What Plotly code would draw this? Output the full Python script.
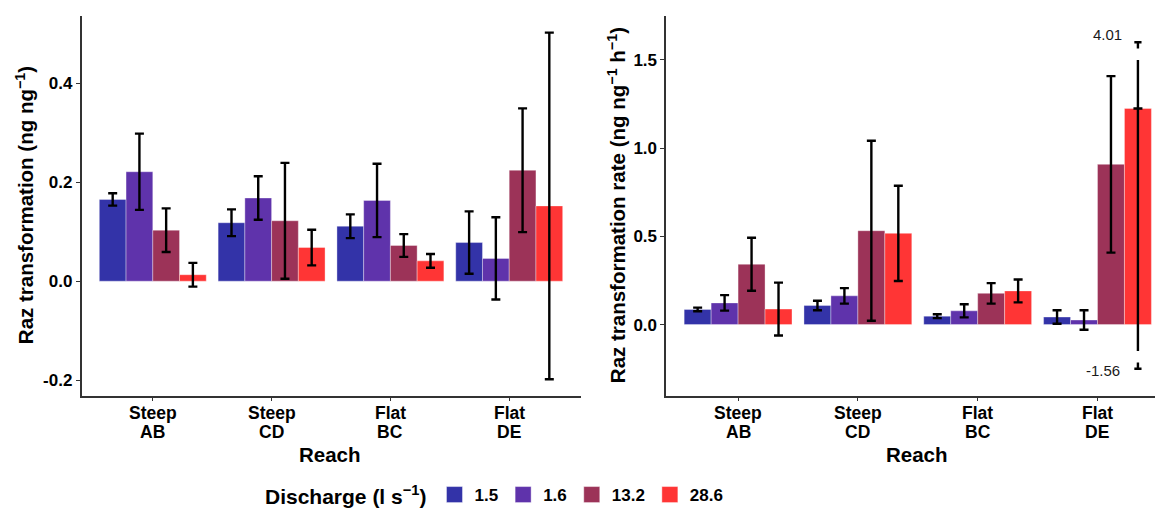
import plotly.graph_objects as go

# ---------------- data ----------------
reaches = ["Steep<br>AB", "Steep<br>CD", "Flat<br>BC", "Flat<br>DE"]
discharges = ["1.5", "1.6", "13.2", "28.6"]
colors = ["#3333A8", "#5F33AB", "#9C3358", "#FF3535"]

# left panel: Raz transformation (ng ng-1)
trans_15 = [0.165, 0.118, 0.111, 0.078]
trans_16 = [0.221, 0.168, 0.163, 0.046]
trans_132 = [0.103, 0.122, 0.072, 0.224]
trans_286 = [0.013, 0.068, 0.041, 0.152]
trans_err_15 = [0.0125, 0.027, 0.024, 0.063]
trans_err_16 = [0.077, 0.044, 0.074, 0.083]
trans_err_132 = [0.044, 0.117, 0.023, 0.125]
trans_err_286 = [0.024, 0.036, 0.014, 0.350]

# right panel: Raz transformation rate (ng ng-1 h-1)
rate_15 = [0.086, 0.108, 0.048, 0.043]
rate_16 = [0.123, 0.163, 0.078, 0.026]
rate_132 = [0.342, 0.532, 0.177, 0.908]
rate_286 = [0.088, 0.517, 0.191, 1.225]
rate_err_15 = [0.010, 0.027, 0.011, 0.038]
rate_err_16 = [0.044, 0.044, 0.037, 0.055]
rate_err_132 = [0.150, 0.510, 0.058, 0.500]
rate_err_286 = [0.150, 0.270, 0.065, None]   # DE bar: off-scale, drawn separately

# off-scale error bar of Flat DE / 28.6 (true limits 4.01 and -1.56)
off_scale_labels = ["4.01", "-1.56"]
off_scale_line = [1.50, -0.15]     # visible segment drawn in panel
off_scale_caps = [1.60, -0.25]     # cap marks
cap_stem = 0.035

left_ticks = [-0.2, 0.0, 0.2, 0.4]
left_ticktext = ["-0.2", "0.0", "0.2", "0.4"]
right_ticks = [0.0, 0.5, 1.0, 1.5]
right_ticktext = ["0.0", "0.5", "1.0", "1.5"]

# ---------------- figure ----------------
FONT = "Liberation Sans, Arial, sans-serif"
W, H = 1155, 515
xpos = list(range(len(reaches)))

left_vals = [trans_15, trans_16, trans_132, trans_286]
left_errs = [trans_err_15, trans_err_16, trans_err_132, trans_err_286]
right_vals = [rate_15, rate_16, rate_132, rate_286]
right_errs = [rate_err_15, rate_err_16, rate_err_132, rate_err_286]

fig = go.Figure()

def add_bars(vals, errs, xa, ya):
    for i, (v, e) in enumerate(zip(vals, errs)):
        fig.add_trace(go.Bar(
            x=xpos, y=v, xaxis=xa, yaxis=ya,
            name=discharges[i], offsetgroup=str(i), showlegend=False,
            marker=dict(color=colors[i], line=dict(color="rgba(255,255,255,0.35)", width=1)),
            error_y=dict(type="data", array=e, symmetric=True, color="black",
                         thickness=2.4, width=4.5),
        ))

add_bars(left_vals, left_errs, "x", "y")
add_bars(right_vals, right_errs, "x2", "y2")

# position of the 28.6 bar inside the DE group (bargap 0.1, 4 bars)
n = len(discharges)
bw = 0.9 / n
red_off = (n - 1 - (n - 1) / 2) * bw
x_red = xpos[3] + red_off

# long off-scale line (no caps)
fig.add_trace(go.Scatter(x=[x_red, x_red], y=off_scale_line, xaxis="x2", yaxis="y2",
                         mode="lines", line=dict(color="black", width=2.4),
                         showlegend=False, hoverinfo="skip"))
# cap marks (T at top, inverted T at bottom)
cw = 0.03
for cap, sgn in zip(off_scale_caps, [-1, 1]):
    fig.add_trace(go.Scatter(x=[x_red - cw, x_red + cw, None, x_red, x_red],
                             y=[cap, cap, None, cap, cap + sgn * cap_stem],
                             xaxis="x2", yaxis="y2", mode="lines",
                             line=dict(color="black", width=2.4),
                             showlegend=False, hoverinfo="skip"))

# legend entries
for i, d in enumerate(discharges):
    fig.add_trace(go.Scatter(x=[None], y=[None], mode="markers", name=d,
                             marker=dict(symbol="square", size=16, color=colors[i],
                                         line=dict(color="rgba(255,255,255,0.4)", width=1)),
                             showlegend=True))

def px(v):
    return v / W

def py(v):
    return 1 - v / H

axis_common = dict(showline=True, linecolor="#333333", linewidth=1.5,
                   ticks="outside", ticklen=4, tickcolor="#333333", tickwidth=1.2,
                   showgrid=False, zeroline=False,
                   tickfont=dict(family=FONT, size=17, color="black", weight="bold"))

y_dom = [py(401), py(16)]

fig.update_layout(
    width=W, height=H,
    margin=dict(l=0, r=0, t=0, b=0),
    paper_bgcolor="white", plot_bgcolor="white",
    font=dict(family=FONT, color="black"),
    barmode="group", bargap=0.1, bargroupgap=0,
    xaxis=dict(domain=[px(81.5), px(580.5)], range=[-0.6, 3.6],
               tickvals=xpos, showticklabels=False, **axis_common),
    yaxis=dict(domain=y_dom, range=[-0.231, 0.536], anchor="x",
               tickvals=left_ticks, ticktext=left_ticktext, **axis_common),
    xaxis2=dict(domain=[px(666.2), 1.0], range=[-0.6, 3.48], anchor="y2",
                tickvals=xpos, showticklabels=False, **axis_common),
    yaxis2=dict(domain=y_dom, range=[-0.402, 1.75], anchor="x2",
                tickvals=right_ticks, ticktext=right_ticktext, **axis_common),
    legend=dict(orientation="h", x=px(263), xanchor="left", y=py(503), yanchor="middle",
                title=dict(text="Discharge (l s<sup>\u22121</sup>)", side="left",
                           font=dict(family=FONT, size=21, color="black", weight="bold")),
                font=dict(family=FONT, size=17, color="black", weight="bold"),
                itemsizing="trace", bgcolor="rgba(0,0,0,0)"),
    showlegend=True,
)

title_font = dict(family=FONT, size=20.5, color="black", weight="bold")
tick_font = dict(family=FONT, size=17.5, color="black", weight="bold")
annos = [
    dict(text="Raz transformation (ng ng<sup>\u22121</sup>)", x=px(25), y=py(208),
         xref="paper", yref="paper", textangle=-90, showarrow=False, font=title_font,
         xanchor="center", yanchor="middle"),
    dict(text="Raz transformation rate (ng ng<sup>\u22121</sup> h<sup>\u22121</sup>)", x=px(617),
         y=py(208), xref="paper", yref="paper", textangle=-90, showarrow=False,
         font=title_font, xanchor="center", yanchor="middle"),
    dict(text="Reach", x=px(330), y=py(461), xref="paper", yref="paper", showarrow=False,
         font=title_font, xanchor="center", yanchor="middle"),
    dict(text="Reach", x=px(917), y=py(461), xref="paper", yref="paper", showarrow=False,
         font=title_font, xanchor="center", yanchor="middle"),
    dict(text=off_scale_labels[0], x=x_red, y=1.645, xref="x2", yref="y2", showarrow=False,
         xanchor="right", yanchor="middle", xshift=-14,
         font=dict(family=FONT, size=15, color="#1a1a1a")),
    dict(text=off_scale_labels[1], x=x_red, y=-0.262, xref="x2", yref="y2", showarrow=False,
         xanchor="right", yanchor="middle", xshift=-16,
         font=dict(family=FONT, size=15, color="#1a1a1a")),
]
# two-line category labels under each axis
for xa in ["x", "x2"]:
    for j, lab in enumerate(reaches):
        top, bottom = lab.split("<br>")
        for txt, yy in [(top, 419), (bottom, 438)]:
            annos.append(dict(text=txt, x=xpos[j], y=py(yy), xref=xa, yref="paper",
                              showarrow=False, font=tick_font,
                              xanchor="center", yanchor="middle"))
fig.update_layout(annotations=annos)

fig.write_html("out.html")
